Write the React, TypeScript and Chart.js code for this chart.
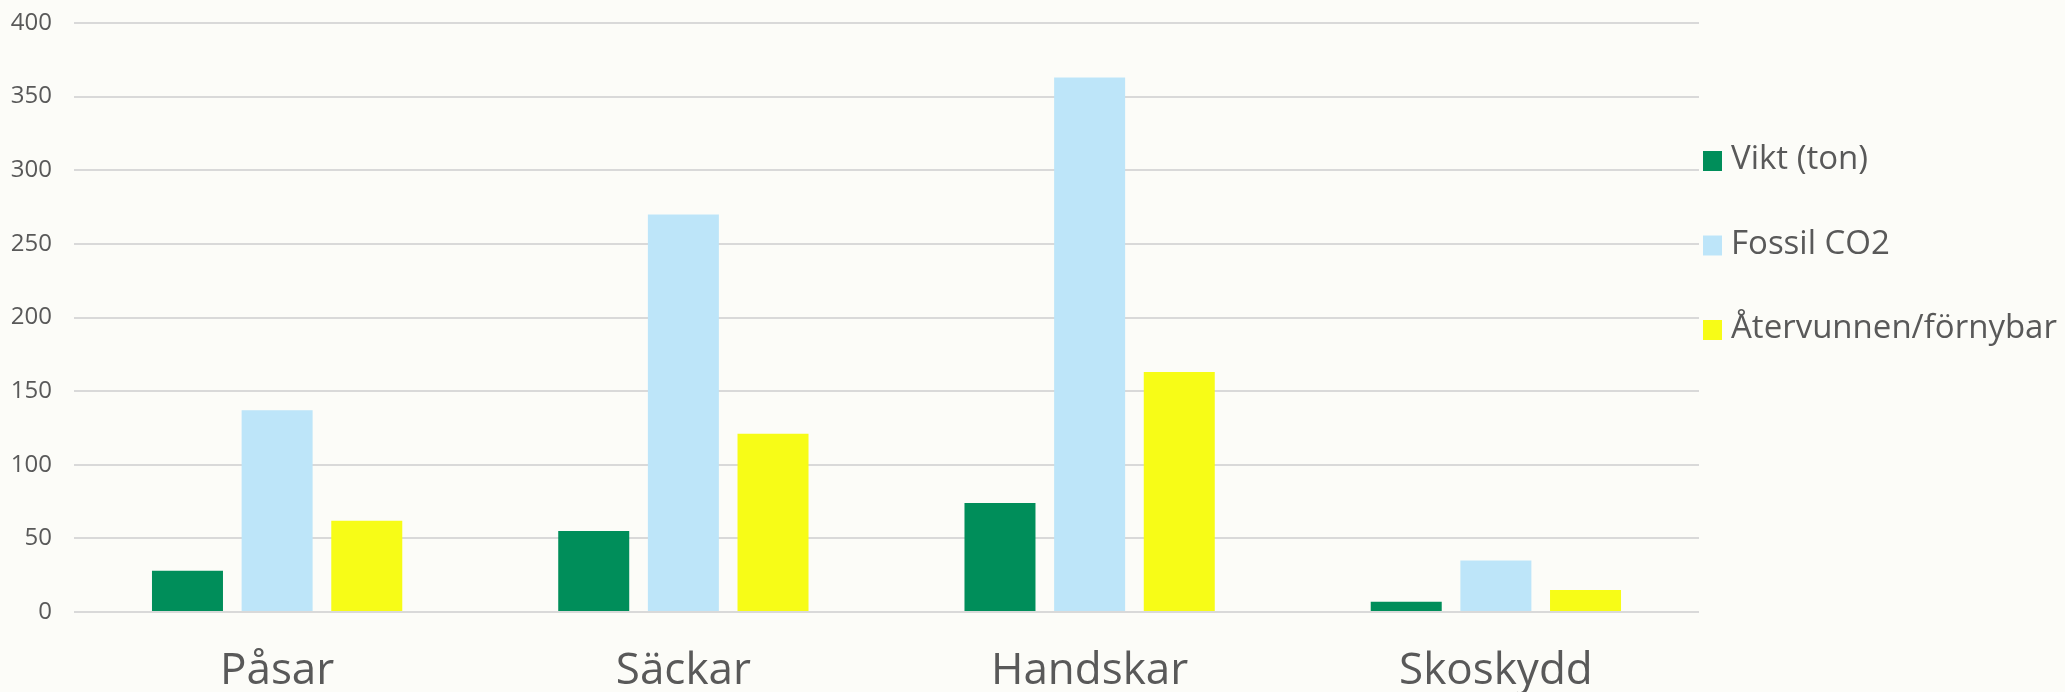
import React, { useEffect, useRef } from "react";
import { Chart, registerables } from "chart.js";

Chart.register(...registerables);

const categories = ["Påsar", "Säckar", "Handskar", "Skoskydd"];
const seriesLabels = ["Vikt (ton)", "Fossil CO2", "Återvunnen/förnybar"];
const viktValues = [28, 55, 74, 7];
const fossilValues = [137, 270, 363, 35];
const atervunnenValues = [62, 121, 163, 15];
const seriesColors = ["#008E5A", "#BDE5F9", "#F7FC17"];
const yTicks = [0, 50, 100, 150, 200, 250, 300, 350, 400];

const TEXT_COLOR = "#595959";
const GRID_COLOR = "#D9D9D9";
const BG = "#FCFCF8";
const FONT = "'Open Sans', 'Liberation Sans', sans-serif";

const sideLegend = {
  id: "sideLegend",
  afterDraw(chart: any) {
    const { ctx, chartArea } = chart;
    ctx.save();
    ctx.font = `33px ${FONT}`;
    ctx.textBaseline = "middle";
    ctx.textAlign = "left";
    chart.data.datasets.forEach((ds: any, i: number) => {
      const cy = chartArea.top + 138 + i * 84.5;
      ctx.fillStyle = ds.backgroundColor;
      ctx.fillRect(chartArea.right + 4, cy - 10, 19, 20);
      ctx.fillStyle = TEXT_COLOR;
      ctx.fillText(ds.label, chartArea.right + 32, cy - 1);
    });
    ctx.restore();
  },
};

export default function App() {
  const ref = useRef<HTMLCanvasElement | null>(null);

  useEffect(() => {
    document.body.style.margin = "0";
    document.body.style.background = BG;
    const canvas = ref.current;
    if (!canvas) return;
    const values = [viktValues, fossilValues, atervunnenValues];
    const chart = new Chart(canvas, {
      type: "bar",
      data: {
        labels: categories,
        datasets: seriesLabels.map((label, i) => ({
          label,
          data: values[i],
          backgroundColor: seriesColors[i],
          borderWidth: 0,
          categoryPercentage: 0.662,
          barPercentage: 0.792,
        })),
      },
      options: {
        responsive: false,
        animation: false,
        layout: { padding: { top: 23, right: 366, left: 0, bottom: 0 } },
        plugins: {
          legend: { display: false },
          tooltip: { enabled: false },
        },
        scales: {
          x: {
            grid: { display: false, drawTicks: false },
            border: { display: false },
            ticks: {
              color: TEXT_COLOR,
              font: { family: FONT, size: 44 },
              padding: 33,
            },
            afterFit: (s: any) => {
              s.height = 80;
              s.paddingLeft = 0;
              s.paddingRight = 0;
            },
          },
          y: {
            min: 0,
            max: 400,
            grid: { color: GRID_COLOR, lineWidth: 2, drawTicks: false },
            border: { display: false },
            ticks: {
              stepSize: 50,
              color: TEXT_COLOR,
              font: { family: FONT, size: 24 },
              padding: 22,
              callback: (v: any) => (yTicks.includes(Number(v)) ? String(v) : ""),
            },
            afterFit: (s: any) => {
              s.width = 74;
              s.paddingTop = 0;
              s.paddingBottom = 0;
            },
          },
        },
      },
      plugins: [sideLegend],
    });
    (document as any).fonts?.load?.(`34px 'Open Sans'`).then(() => chart.update());
    return () => chart.destroy();
  }, []);

  return (
    <div style={{ position: "absolute", left: 0, top: 0, width: 2065, height: 692, background: BG }}>
      <canvas ref={ref} width={2065} height={692} style={{ display: "block" }} />
    </div>
  );
}
